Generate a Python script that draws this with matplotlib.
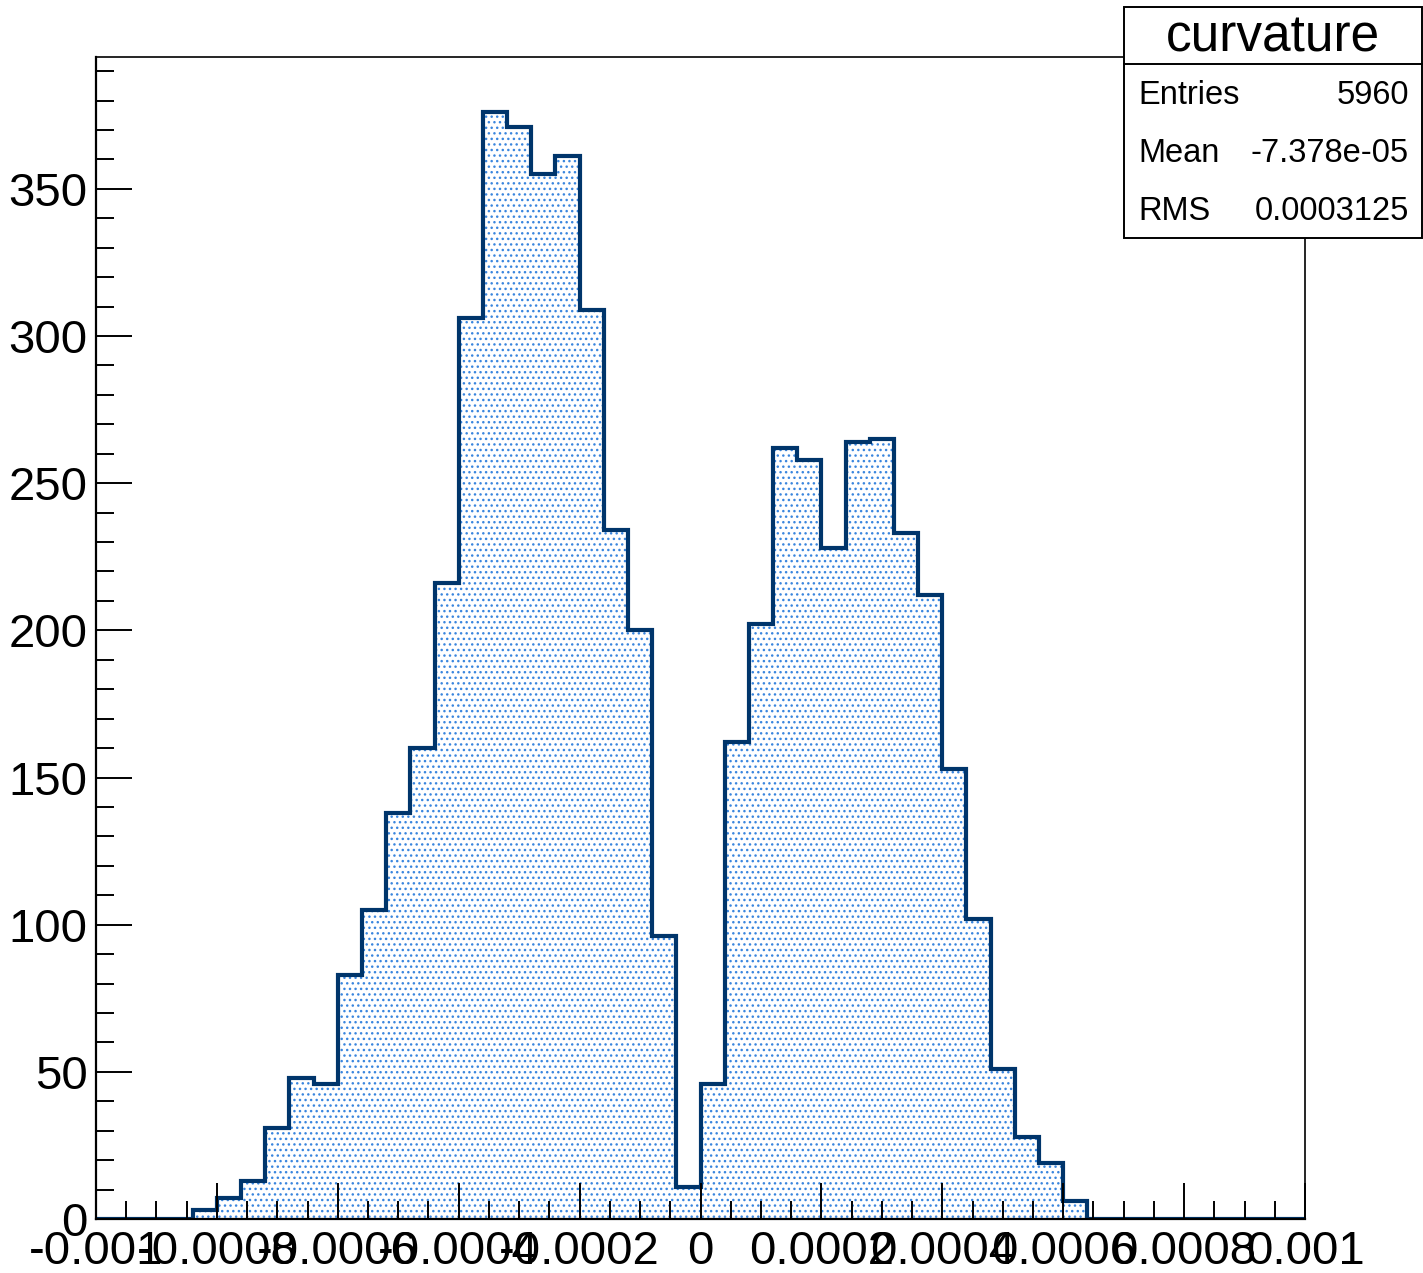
import numpy as np
import matplotlib
matplotlib.use("Agg")
import matplotlib.pyplot as plt
from matplotlib.patches import Rectangle
from matplotlib.ticker import MultipleLocator, FixedLocator

plt.rcParams["font.family"] = ["Liberation Sans", "DejaVu Sans"]

# histogram "curvature": 50 bins from -0.001 to 0.001
x_min, x_max, n_bins = -0.001, 0.001, 50
counts = [0, 0, 0, 0, 3, 7, 13, 31, 48, 46,
          83, 105, 138, 160, 216, 306, 376, 371, 355, 361,
          309, 234, 200, 96, 11, 46, 162, 202, 262, 258,
          228, 264, 265, 233, 212, 153, 102, 51, 28, 19,
          6, 0, 0, 0, 0, 0, 0, 0, 0, 0]
x_ticks = [-0.001, -0.0008, -0.0006, -0.0004, -0.0002, 0,
           0.0002, 0.0004, 0.0006, 0.0008, 0.001]
x_tick_labels = ["-0.001", "-0.0008", "-0.0006", "-0.0004", "-0.0002", "0",
                 "0.0002", "0.0004", "0.0006", "0.0008", "0.001"]
stats_title = "curvature"
stats_rows = [("Entries", "5960"), ("Mean", "-7.378e-05"), ("RMS", "0.0003125")]

line_col = "#00356b"
dot_col = "#3a86de"

W, H = 1423, 1273
fig = plt.figure(figsize=(W / 100, H / 100), dpi=100)
ax = fig.add_axes([96 / W, 1 - 1219 / H, (1305 - 96) / W, (1219 - 57) / H])

edges = np.linspace(x_min, x_max, n_bins + 1)
ax.stairs(counts, edges, fill=True, facecolor="none", edgecolor=dot_col,
          hatch="...", linewidth=0)
ax.stairs(counts, edges, baseline=0, color=line_col, linewidth=3.0)

ax.set_xlim(x_min, x_max)
ax.set_ylim(0, max(counts) * 1.05)

ax.xaxis.set_major_locator(FixedLocator(x_ticks))
ax.set_xticklabels(x_tick_labels)
ax.xaxis.set_minor_locator(MultipleLocator(0.00005))
ax.yaxis.set_major_locator(MultipleLocator(50))
ax.yaxis.set_minor_locator(MultipleLocator(10))

ax.tick_params(which="both", direction="in", top=False, right=False,
               width=1.4, labelsize=34, color="black")
ax.tick_params(which="major", length=26)
ax.tick_params(which="minor", length=13)
ax.tick_params(axis="y", pad=6)
ax.tick_params(axis="x", pad=8)
for s in ax.spines.values():
    s.set_linewidth(1.2)
ax.spines["left"].set_linewidth(1.6)
ax.spines["bottom"].set_linewidth(1.6)

# stats box (ROOT style)
bx0, bx1, by0, by1, bmid = 1124, 1422, 7, 238, 64
def fx(px):
    return px / W
def fy(py):
    return 1 - py / H

box = Rectangle((fx(bx0), fy(by1)), fx(bx1) - fx(bx0), fy(by0) - fy(by1),
                transform=fig.transFigure, facecolor="white", edgecolor="black",
                linewidth=1.4, zorder=10)
fig.patches.append(box)
fig.add_artist(plt.Line2D([fx(bx0), fx(bx1)], [fy(bmid), fy(bmid)],
                          color="black", linewidth=1.4, zorder=11))
fig.text(fx((bx0 + bx1) / 2), fy(38), stats_title, ha="center", va="center",
         fontsize=37, zorder=12)
row_y = [96, 154, 211]
for (lab, val), yy in zip(stats_rows, row_y):
    fig.text(fx(1138), fy(yy), lab, ha="left", va="center", fontsize=23.5, zorder=12)
    fig.text(fx(1409), fy(yy), val, ha="right", va="center", fontsize=23.5, zorder=12)

fig.savefig("out.png", dpi=100)
